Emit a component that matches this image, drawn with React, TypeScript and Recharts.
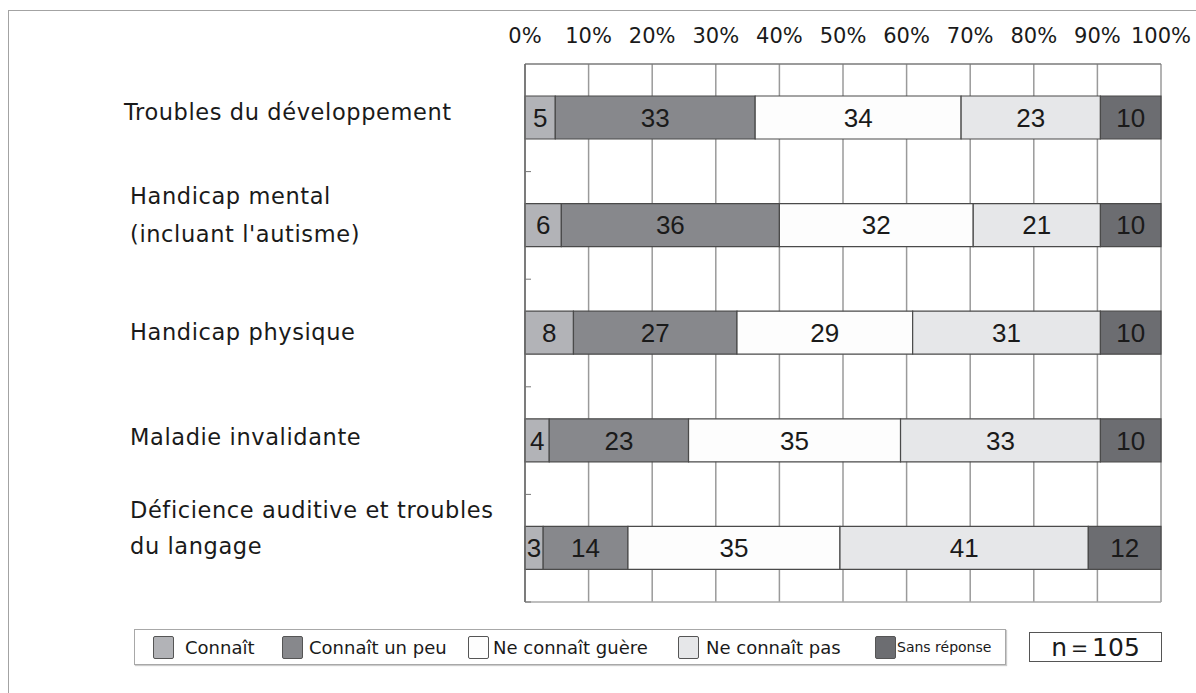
import React from 'react';
import { Bar, BarChart, CartesianGrid, LabelList, XAxis, YAxis } from 'recharts';

const categories = [
  'Troubles du développement',
  "Handicap mental\n(incluant l'autisme)",
  'Handicap physique',
  'Maladie invalidante',
  'Déficience auditive et troubles\ndu langage',
];
const connait = [5, 6, 8, 4, 3];
const connaitUnPeu = [33, 36, 27, 23, 14];
const neConnaitGuere = [34, 32, 29, 35, 35];
const neConnaitPas = [23, 21, 31, 33, 41];
const sansReponse = [10, 10, 10, 10, 12];
const pctTicks = [0, 0.1, 0.2, 0.3, 0.4, 0.5, 0.6, 0.7, 0.8, 0.9, 1];
const sampleSize = 105;

const series = [
  { key: 'connait', name: 'Connaît', color: '#b2b3b7' },
  { key: 'unPeu', name: 'Connaît un peu', color: '#87888c' },
  { key: 'guere', name: 'Ne connaît guère', color: '#fdfdfd' },
  { key: 'pas', name: 'Ne connaît pas', color: '#e6e7e9' },
  { key: 'sans', name: 'Sans réponse', color: '#6c6d71' },
];

const data = categories.map((name, i) => ({
  name,
  connait: connait[i],
  unPeu: connaitUnPeu[i],
  guere: neConnaitGuere[i],
  pas: neConnaitPas[i],
  sans: sansReponse[i],
}));

const FONT = '"DejaVu Sans", sans-serif';
const Y_AXIS_WIDTH = 525;

// label placement per row (x start, y offsets of each line from the band centre)
const labelLayout = [
  { x: 124, dy: [-6] },
  { x: 130, dy: [-29, 9] },
  { x: 130, dy: [-1] },
  { x: 130, dy: [-4] },
  { x: 130, dy: [-38, -2] },
];

const CategoryTick = (props: any) => {
  const { y, payload, index } = props;
  const lay = labelLayout[index] || { x: 130, dy: [0] };
  const lines = String(payload.value).split('\n');
  const half = payload.offset ?? 0;
  return (
    <g>
      {lines.map((l, i) => (
        <text key={i} x={lay.x} y={y + (lay.dy[i] ?? 0)} dominantBaseline="central" fontFamily={FONT} fontSize={22.5} letterSpacing={0.6} fill="#1a1a1a">
          {l}
        </text>
      ))}
      {/* small inward tick at the lower edge of each band */}
      <line x1={Y_AXIS_WIDTH} x2={Y_AXIS_WIDTH + 6} y1={y + half} y2={y + half} stroke="#777" strokeWidth={1} />
    </g>
  );
};

const legendPos = [
  { sw: 153, tx: 185, fs: 18 },
  { sw: 282, tx: 309, fs: 18 },
  { sw: 468, tx: 493, fs: 18 },
  { sw: 678, tx: 706, fs: 18 },
  { sw: 875, tx: 897, fs: 14 },
];

export default function App() {
  return (
    <div style={{ position: 'fixed', left: 0, top: 0, width: 1196, height: 693, overflow: 'hidden', background: '#fff' }}>
      <div style={{ position: 'absolute', left: 8, top: 10, width: 1300, height: 800, borderLeft: '1.5px solid #a3a3a3', borderTop: '1.5px solid #a3a3a3' }} />
      <div style={{ position: 'absolute', left: 0, top: 0 }}>
        <BarChart
          width={1196}
          height={610}
          data={data}
          layout="vertical"
          stackOffset="expand"
          barSize={43}
          margin={{ top: 0, right: 35, bottom: 7, left: 0 }}
        >
          <CartesianGrid horizontal={false} vertical stroke="#9a9a9a" strokeWidth={1.5} />
          <XAxis
            type="number"
            orientation="top"
            domain={[0, 1]}
            ticks={pctTicks}
            height={64}
            tickLine={false}
            axisLine={{ stroke: '#7a7a7a', strokeWidth: 1.5 }}
            tickMargin={15}
            tickFormatter={(v: number) => `${Math.round(v * 100)}%`}
            tick={{ fontFamily: FONT, fontSize: 21, fill: '#1a1a1a' }}
            interval={0}
          />
          <XAxis xAxisId="b" type="number" orientation="bottom" domain={[0, 1]} height={1} tick={false} tickLine={false} axisLine={{ stroke: '#a8a8a8', strokeWidth: 1.5 }} />
          <YAxis
            type="category"
            dataKey="name"
            width={Y_AXIS_WIDTH}
            axisLine={{ stroke: '#6a6a6a', strokeWidth: 1.5 }}
            tickLine={false}
            tick={<CategoryTick />}
            interval={0}
          />
          {series.map((s) => (
            <Bar key={s.key} dataKey={s.key} name={s.name} stackId="a" fill={s.color} stroke="#4a4a4a" strokeWidth={1.2} isAnimationActive={false}>
              <LabelList dataKey={s.key} position="center" fill="#1a1a1a" fontFamily={'"Liberation Sans", sans-serif'} fontSize={26} />
            </Bar>
          ))}
        </BarChart>
      </div>
      <div style={{ position: 'absolute', left: 134, top: 629, width: 870, height: 34, border: '1.5px solid #a8a8a8', boxShadow: '1px 1px 1px #ccc', background: '#fff' }} />
      {series.map((s, i) => (
        <React.Fragment key={s.key}>
          <div style={{ position: 'absolute', left: legendPos[i].sw, top: 636, width: 19, height: 21, background: s.color, border: '1.5px solid #555', borderRadius: 2 }} />
          <div style={{ position: 'absolute', left: legendPos[i].tx, top: 647, transform: 'translateY(-50%)', fontFamily: FONT, fontSize: legendPos[i].fs, color: '#1a1a1a', whiteSpace: 'nowrap' }}>
            {s.name}
          </div>
        </React.Fragment>
      ))}
      <div style={{ position: 'absolute', left: 1029, top: 632, width: 131, height: 28, border: '1.5px solid #555', display: 'flex', alignItems: 'center', justifyContent: 'center', fontFamily: FONT, fontSize: 25, color: '#1a1a1a' }}>
        {`n＝${sampleSize}`}
      </div>
    </div>
  );
}
